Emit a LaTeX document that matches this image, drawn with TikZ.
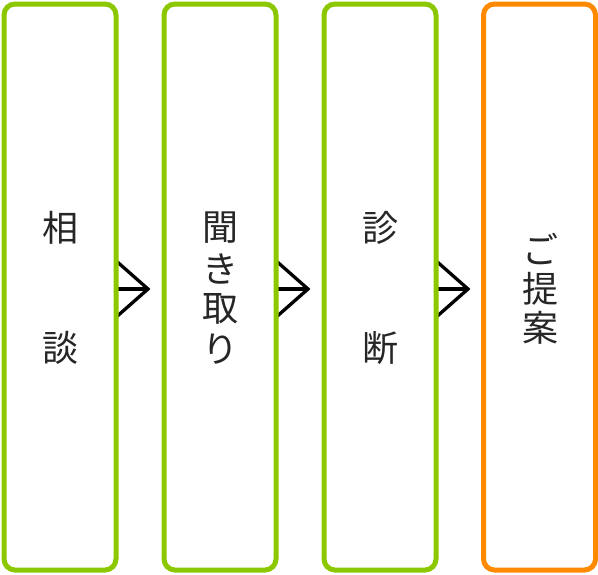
\documentclass[tikz,border=0pt]{standalone}
\usepackage{fontspec}
\newfontfamily\cjk{Noto Sans CJK JP}
\usetikzlibrary{calc}
\definecolor{stepgreen}{HTML}{8CC800}
\definecolor{steporange}{HTML}{FF8A00}
\definecolor{txt}{HTML}{262626}
\begin{document}
\begin{tikzpicture}[x=1pt,y=-1pt,
  stepbox/.style={draw=stepgreen,line width=5pt,rounded corners=11pt,fill=white,
    minimum width=112pt,minimum height=566pt,inner sep=0pt},
  lastbox/.style={stepbox,draw=steporange},
  chev/.style={draw=black,line width=3.3pt},
  lbl/.style={font=\cjk\fontsize{36}{40}\selectfont,text=txt,inner sep=0pt}]
\useasboundingbox (0,0) rectangle (598,574);
% chevrons (drawn first, boxes cover the start)
\foreach \k in {0,1,2}{
  \coordinate (t\k) at (148+160*\k,289);
  \draw[chev] ($(t\k)+(-34,-30)$) -- (t\k) -- ($(t\k)+(-34,30)$);
  \draw[chev] ($(t\k)+(-34,0)$) -- (t\k);
}
\node[stepbox] (b1) at (60,287) {};
\node[stepbox] (b2) at (220,287) {};
\node[stepbox] (b3) at (380,287) {};
\node[lastbox] (b4) at (539.5,287) {};
% labels
\node[lbl] (a1) at (60,228) {相};
\node[lbl] (a2) at (60,348) {談};
\node[lbl] (c1) at (220,228) {聞};
\node[lbl] (c2) at (220,268.5) {き};
\node[lbl] (c3) at (220,309) {取};
\node[lbl] (c4) at (220,349) {り};
\node[lbl] (d1) at (380,228) {診};
\node[lbl] (d2) at (380,348) {断};
\node[lbl] (e1) at (540,249) {ご};
\node[lbl] (e2) at (540,289) {提};
\node[lbl] (e3) at (540,328) {案};
\end{tikzpicture}
\end{document}
